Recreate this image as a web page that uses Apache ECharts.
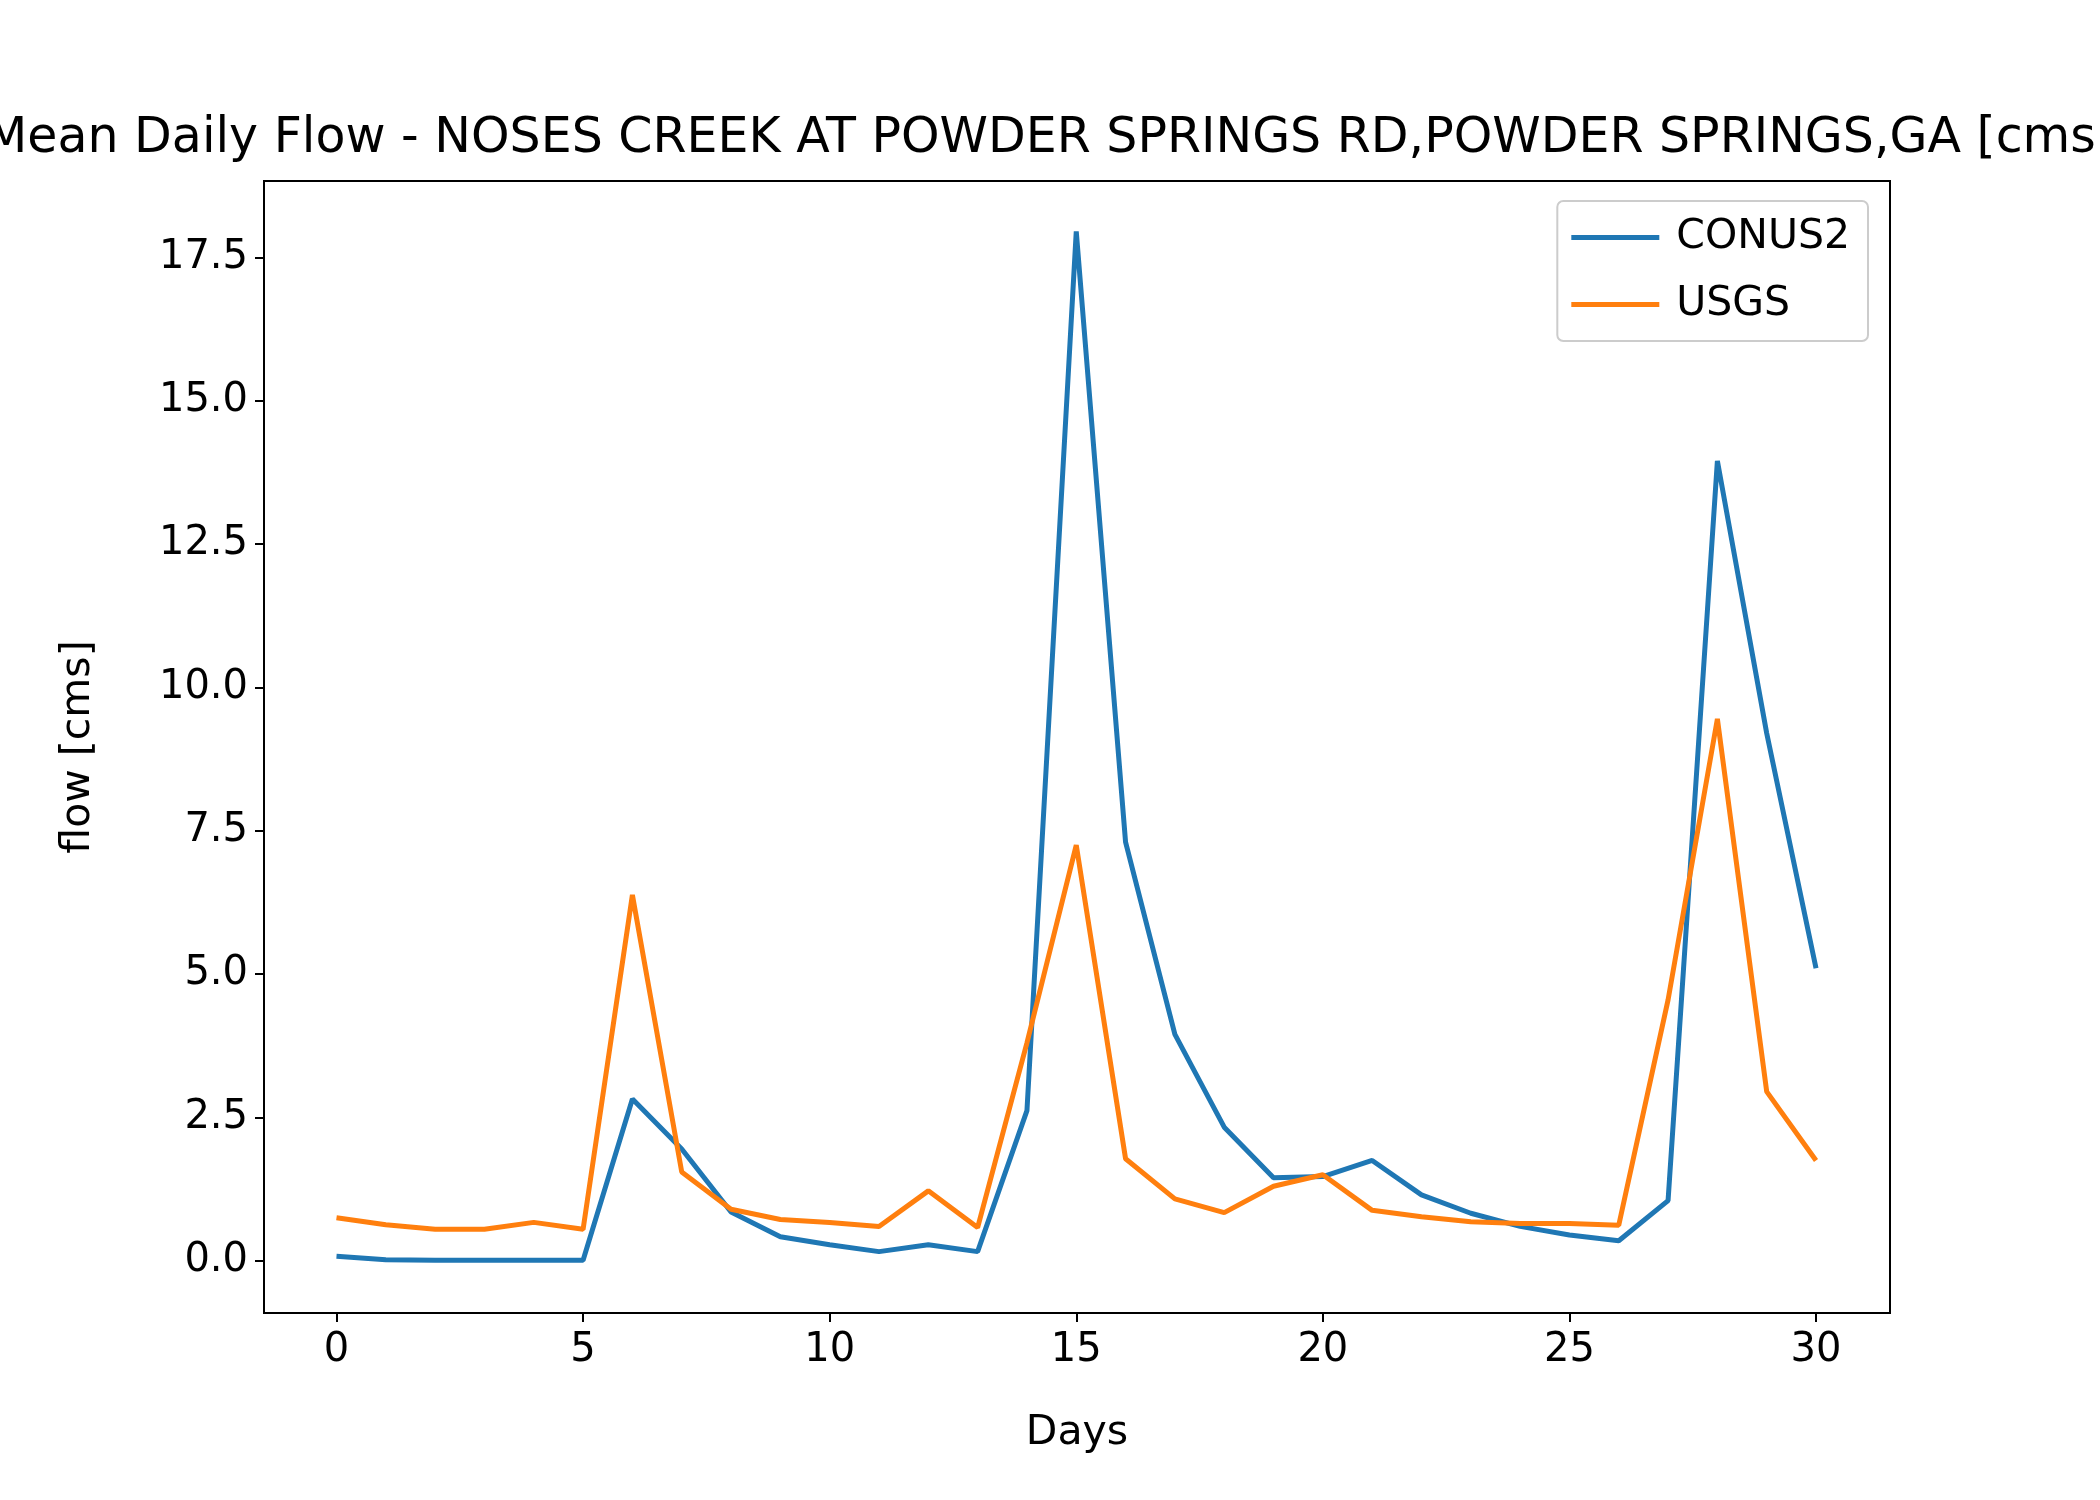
<!DOCTYPE html>
<html><head><meta charset="utf-8">
<script src="https://cdn.jsdelivr.net/npm/echarts@6/dist/echarts.min.js"></script>
<style>html,body{margin:0;background:#fff}#c{width:2100px;height:1500px}</style>
</head><body><div id="c"></div>
<script>
const days = Array.from({length:31},(_,i)=>i);
const conus2 = [0.08,0.02,0.01,0.01,0.01,0.01,2.82,1.95,0.85,0.42,0.28,0.16,0.28,0.16,2.62,17.95,7.3,3.95,2.33,1.45,1.47,1.75,1.15,0.83,0.6,0.45,0.35,1.05,13.95,9.2,5.1];
const usgs = [0.75,0.63,0.55,0.55,0.67,0.55,6.38,1.55,0.9,0.72,0.67,0.6,1.22,0.58,3.8,7.25,1.78,1.08,0.84,1.3,1.5,0.88,0.77,0.68,0.65,0.65,0.62,4.55,9.45,2.95,1.75];
const xTicks = [0,5,10,15,20,25,30];
const yTicks = [0,2.5,5,7.5,10,12.5,15,17.5];
const F = 'DejaVu Sans';
const chart = echarts.init(document.getElementById('c'));
chart.setOption({
  animation:false,
  title:{text:'Mean Daily Flow - NOSES CREEK AT POWDER SPRINGS RD,POWDER SPRINGS,GA [cms]',left:'center',top:110,
    textStyle:{fontFamily:F,fontSize:49,fontWeight:'normal',color:'#000'}},
  grid:{left:264,right:210,top:181,bottom:187,show:true,borderColor:'#000',borderWidth:2,backgroundColor:'transparent'},
  legend:{right:232,top:201,orient:'vertical',itemWidth:88,itemHeight:5,itemGap:26,padding:[16,18,16,14],
    borderColor:'#ccc',borderWidth:2,borderRadius:6,icon:'rect',
    textStyle:{fontFamily:F,fontSize:41,color:'#000',padding:[0,0,0,12]},data:['CONUS2','USGS']},
  xAxis:{type:'value',min:-1.47,max:31.5,name:'Days',nameLocation:'middle',nameGap:100,
    nameTextStyle:{fontFamily:F,fontSize:41,color:'#000'},
    axisLine:{show:true,onZero:false,lineStyle:{color:'#000',width:2}},splitLine:{show:false},
    axisTick:{show:true,customValues:xTicks,length:9,lineStyle:{color:'#000',width:2}},
    axisLabel:{customValues:xTicks,fontFamily:F,fontSize:40,color:'#000',margin:18}},
  yAxis:{type:'value',min:-0.91,max:18.83,name:'flow [cms]',nameLocation:'middle',nameGap:165,
    nameTextStyle:{fontFamily:F,fontSize:41,color:'#000'},
    axisLine:{show:true,onZero:false,lineStyle:{color:'#000',width:2}},splitLine:{show:false},
    axisTick:{show:true,customValues:yTicks,length:9,lineStyle:{color:'#000',width:2}},
    axisLabel:{customValues:yTicks,formatter:v=>v.toFixed(1),fontFamily:F,fontSize:40,color:'#000',margin:16}},
  series:[
    {name:'CONUS2',type:'line',data:days.map((d,i)=>[d,conus2[i]]),showSymbol:false,lineStyle:{color:'#1f77b4',width:5},itemStyle:{color:'#1f77b4'}},
    {name:'USGS',type:'line',data:days.map((d,i)=>[d,usgs[i]]),showSymbol:false,lineStyle:{color:'#ff7f0e',width:5},itemStyle:{color:'#ff7f0e'}}
  ]
});
</script></body></html>
